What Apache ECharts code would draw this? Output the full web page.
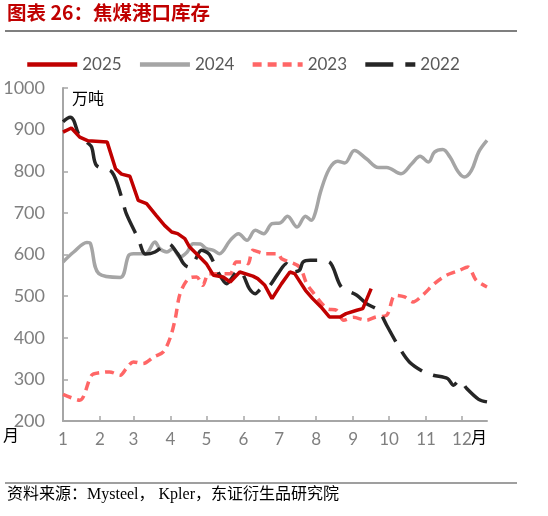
<!DOCTYPE html>
<html>
<head>
<meta charset="utf-8">
<script src="https://cdn.jsdelivr.net/npm/echarts@6/dist/echarts.min.js"></script>
<style>
    html, body { margin: 0; padding: 0; background: #fff; }
    #main { width: 548px; height: 516px; }
</style>
</head>
<body>
<div id="main"></div>
<script>
// day of year -> value
var monthStarts = [0, 31, 59, 90, 120, 151, 181, 212, 243, 273, 304, 334];
var monthLabels = ['1', '2', '3', '4', '5', '6', '7', '8', '9', '10', '11', '12'];

var days2025 = [0, 7, 14, 21, 37, 44, 49, 56, 63, 70, 78, 85, 91, 96, 102, 106, 113, 120, 126, 134, 140, 148, 159, 163, 169, 175, 183, 190, 194, 203, 209, 216, 223, 232, 237, 246, 251, 258];
var vals2025 = [894, 904, 882, 873, 870, 806, 793, 788, 730, 722, 694, 670, 654, 650, 638, 618, 598, 578, 550, 546, 534, 558, 548, 542, 526, 494, 530, 558, 554, 514, 494, 474, 450, 450, 458, 466, 470, 518];

var days2024 = [0, 9, 20, 23, 30, 48, 55, 59, 69, 77, 81, 87, 92, 98, 104, 109, 115, 120, 126, 131, 140, 147, 154, 161, 168, 175, 182, 188, 196, 203, 208, 211, 216, 223, 230, 236, 244, 254, 264, 271, 283, 292, 299, 306, 311, 318, 324, 331, 336, 342, 348, 355];
var vals2024 = [582, 606, 629, 626, 554, 545, 598, 602, 602, 630, 614, 606, 614, 594, 606, 626, 625, 614, 610, 602, 634, 650, 634, 658, 650, 674, 676, 692, 666, 692, 682, 698, 754, 806, 824, 820, 850, 830, 809, 809, 794, 818, 836, 822, 846, 852, 834, 798, 786, 802, 846, 874];

var days2023 = [0, 14, 24, 31, 39, 48, 53, 59, 67, 76, 84, 90, 94, 98, 105, 112, 117, 122, 130, 140, 145, 151, 155, 159, 169, 180, 183, 198, 204, 209, 221, 229, 235, 243, 254, 262, 271, 278, 286, 293, 301, 311, 321, 332, 339, 346, 355];
var vals2023 = [264, 250, 310, 316, 318, 310, 326, 342, 338, 354, 366, 402, 446, 506, 542, 546, 526, 554, 554, 554, 582, 582, 578, 610, 602, 602, 590, 570, 530, 510, 470, 466, 442, 449, 442, 450, 454, 502, 498, 486, 502, 530, 550, 562, 570, 538, 522];

var days2022 = [0, 6, 9, 13, 20, 24, 28, 41, 49, 53, 63, 69, 77, 88, 96, 101, 105, 109, 116, 122, 126, 129, 137, 141, 147, 151, 156, 161, 166, 172, 180, 187, 191, 193, 198, 201, 207, 211, 223, 233, 246, 254, 264, 271, 282, 290, 302, 310, 322, 327, 332, 338, 348, 355];
var vals2022 = [919, 930, 922, 890, 870, 858, 814, 798, 738, 698, 638, 601, 606, 626, 602, 578, 570, 578, 610, 602, 582, 562, 530, 542, 562, 550, 518, 506, 518, 522, 554, 578, 566, 558, 562, 582, 586, 586, 582, 522, 502, 482, 466, 430, 374, 342, 318, 310, 302, 286, 298, 278, 252, 246];

var yTicks = [200, 1000, 100];

function pairs(xs, ys) {
    var out = [];
    for (var i = 0; i < xs.length; i++) {
        out.push([xs[i], ys[i]]);
    }
    return out;
}

var chart = echarts.init(document.getElementById('main'));
var axisGray = '#a6a6a6';
var labelGray = '#7f7f7f';
var numFont = 'Lato, "Noto Sans", sans-serif';

var option = {
    animation: false,
    textStyle: { fontFamily: numFont },
    grid: { left: 63, right: 61, top: 88, bottom: 95 },
    legend: {
        left: 20,
        top: 51,
        itemWidth: 50,
        itemHeight: 4,
        itemGap: 16,
        itemStyle: { opacity: 0 },
        lineStyle: { width: 4.5 },
        textStyle: { fontSize: 17, color: '#595959', fontFamily: numFont },
        data: ['2025', '2024', '2023', '2022']
    },
    xAxis: {
        type: 'value',
        min: 0,
        max: 355,
        axisLine: { show: true, lineStyle: { color: axisGray, width: 2 } },
        axisTick: { show: true, inside: true, length: 5, customValues: monthStarts, lineStyle: { color: axisGray, width: 1.5 } },
        axisLabel: {
            customValues: monthStarts,
            fontSize: 17,
            color: labelGray,
            margin: 10,
            formatter: function (v) {
                var i = monthStarts.indexOf(v);
                return i >= 0 ? monthLabels[i] : '';
            }
        },
        splitLine: { show: false }
    },
    yAxis: {
        type: 'value',
        min: yTicks[0],
        max: yTicks[1],
        interval: yTicks[2],
        axisLine: { show: true, lineStyle: { color: axisGray, width: 2 } },
        axisTick: { show: true, inside: true, length: 5, lineStyle: { color: axisGray, width: 1.5 } },
        axisLabel: {
            fontSize: 18,
            color: labelGray,
            margin: 18,
            formatter: function (v) { return String(v); }
        },
        splitLine: { show: false }
    },
    series: [
        {
            name: '2025',
            type: 'line',
            symbol: 'none',
            z: 5,
            lineStyle: { color: '#c00000', width: 3.5 },
            itemStyle: { color: '#c00000' },
            data: pairs(days2025, vals2025)
        },
        {
            name: '2024',
            type: 'line',
            symbol: 'none',
            smooth: 0.35,
            lineStyle: { color: '#a5a5a5', width: 3.5 },
            itemStyle: { color: '#a5a5a5' },
            data: pairs(days2024, vals2024)
        },
        {
            name: '2023',
            type: 'line',
            symbol: 'none',
            smooth: 0.3,
            lineStyle: { color: '#ff6666', width: 3.5, type: [9, 6] },
            itemStyle: { color: '#ff6666' },
            data: pairs(days2023, vals2023)
        },
        {
            name: '2022',
            type: 'line',
            symbol: 'none',
            smooth: 0.3,
            lineStyle: { color: '#262626', width: 3.5, type: [28, 12] },
            itemStyle: { color: '#262626' },
            data: pairs(days2022, vals2022)
        }
    ],
    graphic: [
        {
            type: 'text', left: 7, top: 3,
            style: { text: '图表 26：焦煤港口库存', fill: '#c00000', font: 'bold 19.5px "Noto Sans CJK SC"' }
        },
        {
            type: 'line', shape: { x1: 5, y1: 31, x2: 517, y2: 31 },
            style: { stroke: '#7f7f7f', lineWidth: 2 }
        },
        {
            type: 'text', left: 72, top: 90,
            style: { text: '万吨', fill: '#000', font: '16px "Noto Sans CJK SC"' }
        },
        {
            type: 'text', left: 471, top: 429,
            style: { text: '月', fill: '#000', font: '16px "Noto Sans CJK SC"' }
        },
        {
            type: 'text', left: 3, top: 427,
            style: { text: '月', fill: '#000', font: '16px "Noto Sans CJK SC"' }
        },
        {
            type: 'line', shape: { x1: 5, y1: 483, x2: 517, y2: 483 },
            style: { stroke: '#404040', lineWidth: 1.2 }
        },
        {
            type: 'text', left: 7, top: 487,
            style: { text: '资料来源：Mysteel， Kpler，东证衍生品研究院', fill: '#000', font: '16px "Liberation Serif", "Noto Sans CJK SC"' }
        }
    ]
};
chart.setOption(option);
</script>
</body>
</html>
